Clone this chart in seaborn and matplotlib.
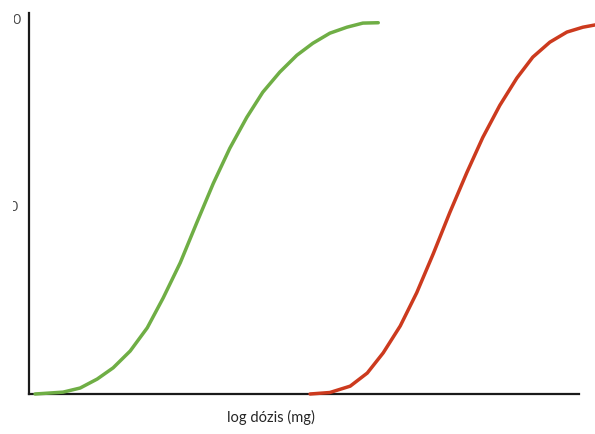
import matplotlib
matplotlib.use("Agg")
import matplotlib.pyplot as plt
import seaborn as sns
import pandas as pd
from matplotlib.transforms import Bbox, ScaledTranslation, blended_transform_factory

# Dose-response curves: log dose (arbitrary units) vs. response (%)
green_logdose = [0.11, 0.62, 0.93, 1.24, 1.53, 1.84, 2.15, 2.44, 2.75, 3.05,
                 3.35, 3.65, 3.96, 4.25, 4.56, 4.87, 5.16, 5.47, 5.78, 6.07,
                 6.35]
green_response = [0.0, 0.5, 1.6, 4.0, 7.0, 11.5, 17.7, 25.7, 35.1, 45.8,
                  56.3, 65.7, 74.0, 80.7, 86.1, 90.6, 93.8, 96.5, 98.1, 99.2,
                  99.3]

red_logdose = [5.11, 5.47, 5.84, 6.15, 6.44, 6.75, 7.05, 7.35, 7.65, 7.96,
               8.25, 8.56, 8.87, 9.16, 9.47, 9.78, 10.07, 10.29]
red_response = [0.0, 0.4, 2.1, 5.6, 11.0, 18.2, 27.1, 37.5, 48.5, 59.2,
                68.6, 77.2, 84.5, 90.1, 94.1, 96.8, 98.1, 98.7]

y_ticks = [50, 100]
y_tick_labels = ["50", "100"]
x_label = "log dózis (mg)"

sns.set_theme(style="white")
plt.rcParams["font.family"] = ["Lato", "DejaVu Sans"]

fig = plt.figure(figsize=(5.95, 4.34), dpi=100)
ax = fig.add_axes([29 / 595, 40 / 434, 550 / 595, 381 / 434])

green_df = pd.DataFrame({"dose": green_logdose, "response": green_response})
red_df = pd.DataFrame({"dose": red_logdose, "response": red_response})

line_kw = dict(linewidth=2.5, sort=False, estimator=None, clip_on=False,
               solid_joinstyle="round", solid_capstyle="round")
sns.lineplot(data=green_df, x="dose", y="response", ax=ax, color="#6fae45",
             **line_kw)
sns.lineplot(data=red_df, x="dose", y="response", ax=ax, color="#cc3a1e",
             **line_kw)

ax.set_xlim(0, 10)
ax.set_ylim(0, 101.9)
ax.set_xticks([])
ax.set_yticks([])
ax.set_ylabel("")

for side in ("top", "right"):
    ax.spines[side].set_visible(False)
for side in ("left", "bottom"):
    ax.spines[side].set_color("#1a1a1a")
    ax.spines[side].set_linewidth(1.6)
    ax.spines[side].set_zorder(1)

ax.set_xlabel(x_label, fontsize=10.5, color="#262626")
ax.xaxis.set_label_coords(0.44, -0.043)

# y labels sit against the left edge of the canvas and are partly cut off
label_offsets = {"50": -11 / 100, "100": -7 / 100}
label_clip = {"50": 13, "100": 14}
for val, txt in zip(y_ticks, y_tick_labels):
    trans = blended_transform_factory(ax.transAxes, ax.transData) + \
        ScaledTranslation(label_offsets[txt], 0, fig.dpi_scale_trans)
    t = ax.text(0, val, txt, transform=trans, ha="right", va="center",
                fontsize=10, color="#444444", clip_on=True)
    t.set_clip_box(Bbox.from_extents(label_clip[txt], 0, 595, 434))

fig.savefig("out.png", dpi=100)
